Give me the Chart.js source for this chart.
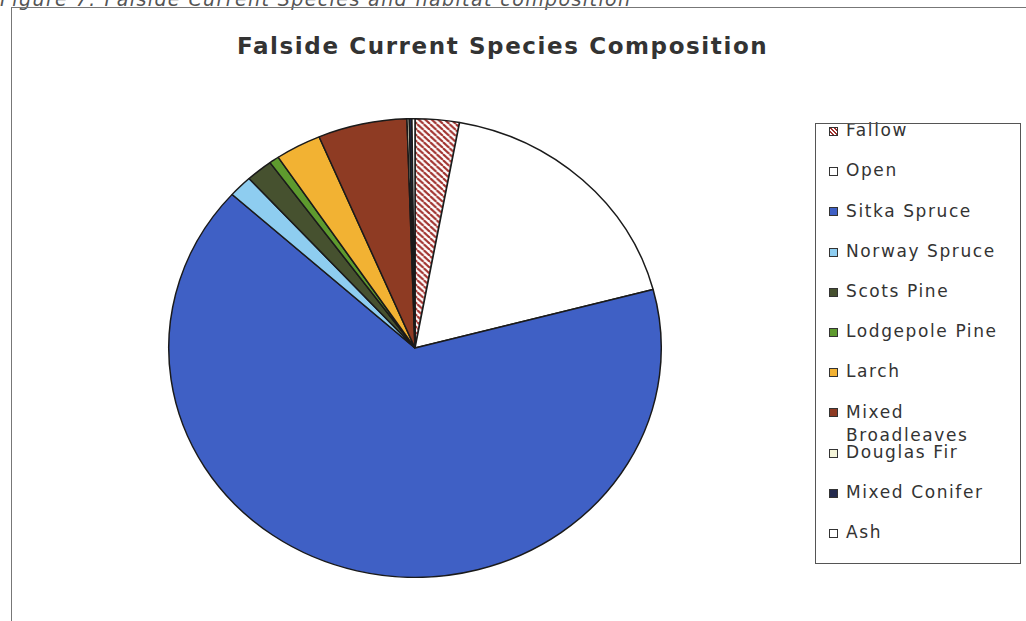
<!DOCTYPE html>
<html>
<head>
<meta charset="utf-8">
<script src="https://cdn.jsdelivr.net/npm/chart.js@4.4.1/dist/chart.umd.min.js"></script>
<style>
  html, body { margin:0; padding:0; background:#fff; }
  body { width:1026px; height:621px; overflow:hidden; position:relative; font-family:"DejaVu Sans", Verdana, sans-serif; }
  #caption { position:absolute; left:0; top:-12px; font-style:italic; font-size:19px; letter-spacing:1.4px; color:#555; white-space:nowrap; line-height:22px; }
  #frame { position:absolute; left:11px; top:7px; width:1100px; height:700px; border:1px solid #777; box-sizing:border-box; }
  #title { position:absolute; left:237px; top:35px; font-weight:bold; font-size:23px; line-height:23px; letter-spacing:1.6px; color:#333; white-space:nowrap; }
  #chartBox { position:absolute; left:165px; top:118px; width:500px; height:460px; }
  #legendBox { position:absolute; left:815px; top:123px; width:206px; height:441px; border:1.5px solid #555; box-sizing:border-box; z-index:2; pointer-events:none; }
  .item { position:absolute; left:846px; width:165px; font-size:17px; line-height:23px; letter-spacing:1.6px; color:#333; }
  .sw { position:absolute; left:829px; width:9px; height:9px; border:1.5px solid #333; box-sizing:border-box; }
</style>
</head>
<body>
<div id="caption">Figure 7: Falside Current Species and habitat composition</div>
<div id="frame"></div>
<div id="title">Falside Current Species Composition</div>
<div id="chartBox"><canvas id="c" width="500" height="460"></canvas></div>
<div id="legendBox"></div>
<div id="legend"></div>
<script>
// ---- data ----
const categories = ["Fallow", "Open", "Sitka Spruce", "Norway Spruce", "Scots Pine", "Lodgepole Pine", "Larch", "Mixed Broadleaves", "Douglas Fir", "Mixed Conifer", "Ash"];
const sharePercent = [2.9, 18.0, 65.8, 1.55, 1.75, 0.65, 3.0, 5.85, 0.15, 0.17, 0.2];
const sliceColors = ["#ffffff", "#ffffff", "#3f60c5", "#8ecdf0", "#46512f", "#5e9a2e", "#f2b233", "#8e3b23", "#f4f4d8", "#232a4e", "#ffffff"];
const hatchColor = "#a0302c";

// hatch pattern for Fallow
function makeHatch() {
  const s = 6;
  const p = document.createElement('canvas');
  p.width = s; p.height = s;
  const g = p.getContext('2d');
  g.fillStyle = '#ffffff'; g.fillRect(0, 0, s, s);
  g.strokeStyle = hatchColor; g.lineWidth = 2;
  for (const k of [-s, 0, s]) {
    g.beginPath(); g.moveTo(k, 0); g.lineTo(k + s, s); g.stroke();
  }
  return document.getElementById('c').getContext('2d').createPattern(p, 'repeat');
}
const bg = sliceColors.slice();
bg[0] = makeHatch();

// horizontal stretch of the pie (reference pie is an ellipse)
const SX = 1.074;
const ellipsePlugin = {
  id: 'ellipse',
  beforeDatasetsDraw(chart) {
    const a = chart.chartArea, c = chart.ctx;
    const cx = (a.left + a.right) / 2, cy = (a.top + a.bottom) / 2;
    c.save(); c.translate(cx, cy); c.scale(SX, 1); c.translate(-cx, -cy);
  },
  afterDatasetsDraw(chart) { chart.ctx.restore(); }
};

new Chart(document.getElementById('c'), {
  type: 'pie',
  data: {
    labels: categories,
    datasets: [{
      data: sharePercent,
      backgroundColor: bg,
      borderColor: '#1a1a1a',
      borderWidth: 1.4,
      hoverOffset: 0
    }]
  },
  options: {
    responsive: false,
    animation: false,
    layout: { padding: 0 },
    plugins: { legend: { display: false }, tooltip: { enabled: false }, title: { display: false } }
  },
  plugins: [ellipsePlugin]
});

// HTML legend built from the arrays
const legend = document.getElementById('legend');
categories.forEach((name, i) => {
  const yc = 131 + 40.2 * i;
  const t = document.createElement('div');
  t.className = 'item';
  t.style.top = (yc - 11.8) + 'px';
  t.textContent = name;
  legend.appendChild(t);
  const s = document.createElement('div');
  s.className = 'sw';
  s.style.top = (yc - 4) + 'px';
  if (i === 0) {
    s.style.background = 'repeating-linear-gradient(45deg, #fff 0 1.5px, ' + hatchColor + ' 1.5px 3px)';
  } else {
    s.style.background = sliceColors[i];
  }
  legend.appendChild(s);
});
</script>
</body>
</html>
